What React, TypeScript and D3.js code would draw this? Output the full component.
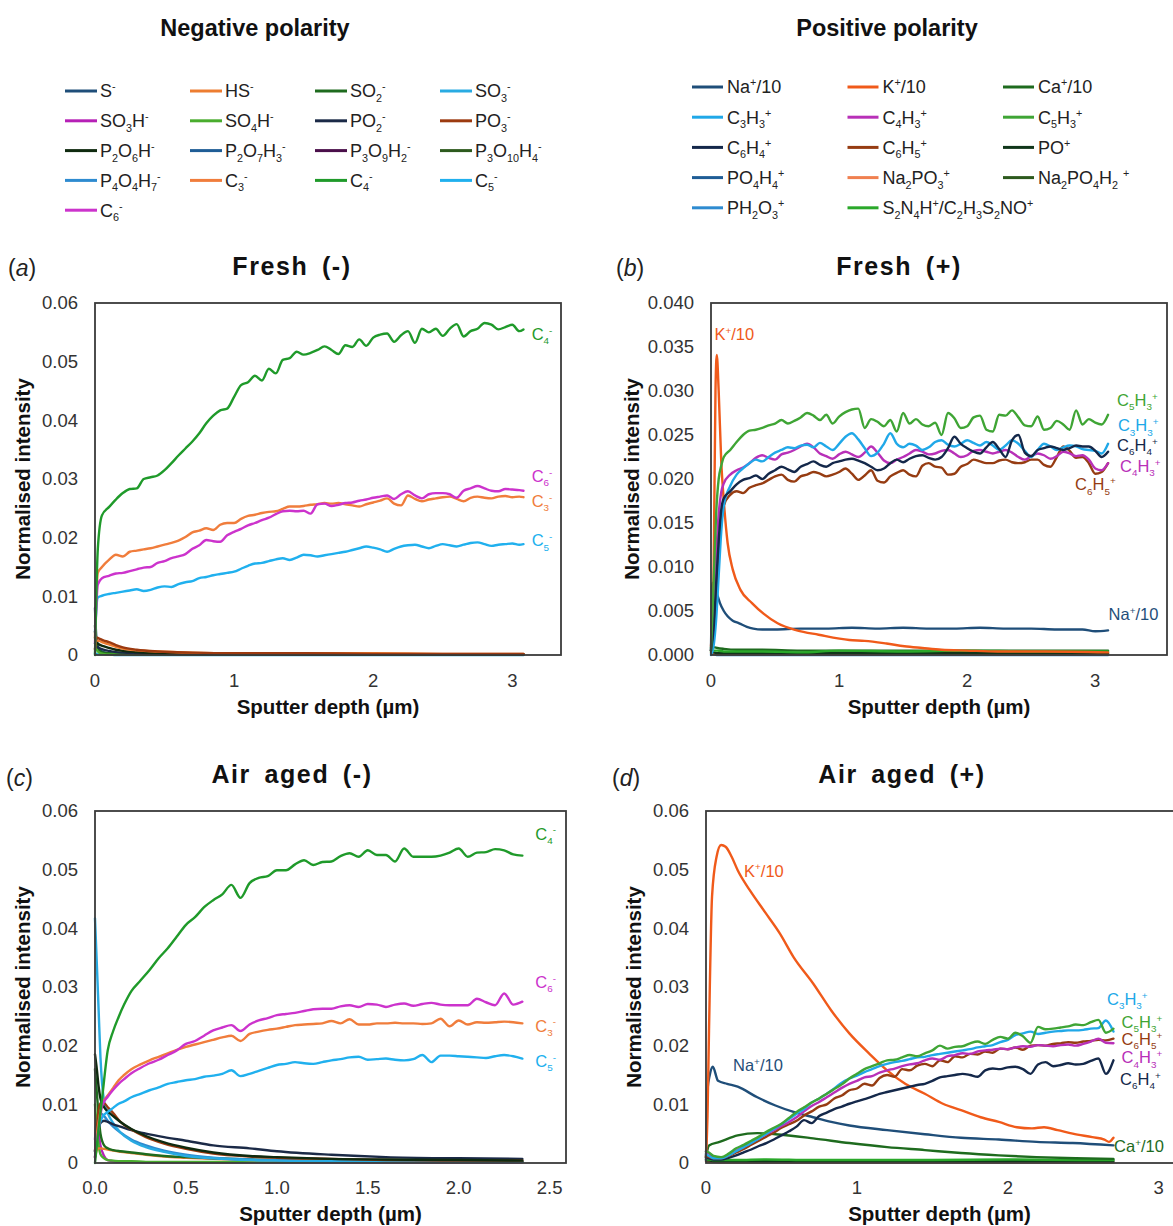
import React from 'react';
import * as d3 from 'd3';

// ---------------- Legend data ----------------
const NEG_LABELS = ['S^-', 'HS^-', 'SO_2^-', 'SO_3^-', 'SO_3H^-', 'SO_4H^-', 'PO_2^-', 'PO_3^-',
  'P_2O_6H^-', 'P_2O_7H_3^-', 'P_3O_9H_2^-', 'P_3O_{10}H_4^-', 'P_4O_4H_7^-', 'C_3^-', 'C_4^-', 'C_5^-', 'C_6^-'];
const NEG_COLORS = ['#1f4e79', '#ed7d31', '#1e6b1e', '#29abe2', '#b620b6', '#4aad2e', '#1b2a47', '#9c3a10',
  '#0f2a0f', '#1f5d96', '#4a0f4a', '#2d5a1e', '#2e8bd0', '#f07d3c', '#1f9a2a', '#20b0ee', '#cc33cc'];
const POS_LABELS = ['Na^+/10', 'K^+/10', 'Ca^+/10', 'C_3H_3^+', 'C_4H_3^+', 'C_5H_3^+', 'C_6H_4^+', 'C_6H_5^+',
  'PO^+', 'PO_4H_4^+', 'Na_2PO_3^+', 'Na_2PO_4H_2 ^+', 'PH_2O_3^+', 'S_2N_4H^+/C_2H_3S_2NO^+'];
const POS_COLORS = ['#1f4e79', '#f05a1a', '#1e6b1e', '#20a8e8', '#b830b8', '#3fa535', '#14284a', '#963c12',
  '#10361a', '#1f5d96', '#f08050', '#2d5a1e', '#2e8bd0', '#2aa82a'];

// ---------------- Axis ticks ----------------
const Y_TICKS_6 = [0, 0.01, 0.02, 0.03, 0.04, 0.05, 0.06];
const Y_LABELS_6 = ['0', '0.01', '0.02', '0.03', '0.04', '0.05', '0.06'];
const Y_TICKS_B = [0, 0.005, 0.01, 0.015, 0.02, 0.025, 0.03, 0.035, 0.04];
const Y_LABELS_B = ['0.000', '0.005', '0.010', '0.015', '0.020', '0.025', '0.030', '0.035', '0.040'];
const X_TICKS_INT = [0, 1, 2, 3];
const X_LABELS_INT = ['0', '1', '2', '3'];
const X_TICKS_C = [0, 0.5, 1, 1.5, 2, 2.5];
const X_LABELS_C = ['0.0', '0.5', '1.0', '1.5', '2.0', '2.5'];

// ---------------- Panel (a) Fresh (-) ----------------
const A_X = [0, 0.02, 0.05, 0.1, 0.15, 0.2, 0.25, 0.3, 0.35, 0.4,
  0.45, 0.5, 0.55, 0.6, 0.65, 0.7, 0.75, 0.8, 0.85, 0.9,
  0.95, 1.0, 1.05, 1.1, 1.15, 1.2, 1.25, 1.3, 1.35, 1.4,
  1.45, 1.5, 1.55, 1.6, 1.65, 1.7, 1.75, 1.8, 1.85, 1.9,
  1.95, 2.0, 2.05, 2.1, 2.15, 2.2, 2.25, 2.3, 2.35, 2.4,
  2.45, 2.5, 2.55, 2.6, 2.65, 2.7, 2.75, 2.8, 2.85, 2.9,
  2.95, 3.0, 3.05, 3.08];
const A_C4 = [0.0000, 0.0180, 0.0238, 0.0252, 0.0265, 0.0276, 0.0283, 0.0284, 0.0300, 0.0303,
  0.0306, 0.0315, 0.0327, 0.0340, 0.0352, 0.0364, 0.0378, 0.0395, 0.0408, 0.0417,
  0.0420, 0.0440, 0.0460, 0.0465, 0.0476, 0.0468, 0.0488, 0.0480, 0.0503, 0.0506,
  0.0517, 0.0512, 0.0515, 0.0520, 0.0526, 0.0520, 0.0513, 0.0528, 0.0525, 0.0538,
  0.0527, 0.0541, 0.0546, 0.0548, 0.0534, 0.0545, 0.0552, 0.0532, 0.0556, 0.0550,
  0.0556, 0.0544, 0.0556, 0.0564, 0.0543, 0.0552, 0.0556, 0.0566, 0.0563, 0.0555,
  0.0559, 0.0563, 0.0552, 0.0555];
const A_C6 = [0.0020, 0.0120, 0.0131, 0.0135, 0.0139, 0.0140, 0.0143, 0.0146, 0.0149, 0.0150,
  0.0157, 0.0160, 0.0165, 0.0168, 0.0172, 0.0181, 0.0187, 0.0196, 0.0194, 0.0193,
  0.0204, 0.0210, 0.0215, 0.0221, 0.0225, 0.0230, 0.0234, 0.0240, 0.0245, 0.0246,
  0.0245, 0.0246, 0.0241, 0.0257, 0.0258, 0.0254, 0.0256, 0.0259, 0.0260, 0.0263,
  0.0265, 0.0268, 0.0270, 0.0272, 0.0266, 0.0274, 0.0279, 0.0272, 0.0267, 0.0274,
  0.0276, 0.0276, 0.0274, 0.0268, 0.0280, 0.0284, 0.0288, 0.0284, 0.0280, 0.0279,
  0.0283, 0.0282, 0.0281, 0.0280];
const A_C3 = [0.0030, 0.0140, 0.0150, 0.0162, 0.0171, 0.0168, 0.0176, 0.0178, 0.0180, 0.0182,
  0.0185, 0.0188, 0.0191, 0.0195, 0.0201, 0.0209, 0.0212, 0.0216, 0.0213, 0.0222,
  0.0225, 0.0225, 0.0232, 0.0237, 0.0239, 0.0242, 0.0244, 0.0245, 0.0249, 0.0253,
  0.0253, 0.0254, 0.0256, 0.0257, 0.0259, 0.0258, 0.0259, 0.0257, 0.0255, 0.0253,
  0.0257, 0.0260, 0.0263, 0.0267, 0.0258, 0.0255, 0.0272, 0.0266, 0.0262, 0.0265,
  0.0267, 0.0269, 0.0270, 0.0266, 0.0262, 0.0268, 0.0270, 0.0268, 0.0267, 0.0270,
  0.0271, 0.0269, 0.0270, 0.0269];
const A_C5 = [0.0040, 0.0098, 0.0101, 0.0104, 0.0106, 0.0108, 0.0110, 0.0112, 0.0109, 0.0111,
  0.0115, 0.0117, 0.0116, 0.0121, 0.0124, 0.0126, 0.0131, 0.0133, 0.0136, 0.0138,
  0.0140, 0.0142, 0.0147, 0.0152, 0.0156, 0.0157, 0.0160, 0.0163, 0.0165, 0.0162,
  0.0166, 0.0171, 0.0170, 0.0168, 0.0170, 0.0172, 0.0174, 0.0176, 0.0179, 0.0182,
  0.0185, 0.0183, 0.0180, 0.0176, 0.0181, 0.0185, 0.0187, 0.0188, 0.0185, 0.0182,
  0.0186, 0.0189, 0.0187, 0.0185, 0.0188, 0.0191, 0.0192, 0.0189, 0.0186, 0.0188,
  0.0189, 0.0190, 0.0188, 0.0189];
const A_LOW_X = [0, 0.01, 0.03, 0.06, 0.1, 0.15, 0.2, 0.3, 0.45, 0.7, 1.0, 1.5, 2.0, 2.5, 3.08];
const A_PO3 = [0.0010, 0.0030, 0.0028, 0.0025, 0.0022, 0.0017, 0.0013, 0.0009, 0.0006, 0.0004, 0.0003, 0.0003, 0.0002, 0.0002, 0.0002];
const A_HS = [0.0010, 0.0025, 0.0024, 0.0021, 0.0018, 0.0014, 0.0011, 0.0008, 0.0006, 0.0004, 0.0003, 0.0003, 0.0003, 0.0002, 0.0002];
const A_P2O6H = [0.0040, 0.0022, 0.0018, 0.0015, 0.0012, 0.0009, 0.0007, 0.0005, 0.0003, 0.0002, 0.0002, 0.0001, 0.0001, 0.0001, 0.0001];
const A_PO2 = [0.0020, 0.0015, 0.0012, 0.0009, 0.0007, 0.0005, 0.0004, 0.0003, 0.0002, 0.0001, 0.0001, 0.0001, 0.0001, 0.0001, 0.0001];
const A_S = [0.0080, 0.0030, 0.0010, 0.0005, 0.0003, 0.0002, 0.0001, 0.0001, 0.0001, 0.0001, 0.0001, 0.0001, 0.0001, 0.0001, 0.0001];
const A_SO2 = [0.0050, 0.0020, 0.0008, 0.0004, 0.0003, 0.0002, 0.0002, 0.0001, 0.0001, 0.0001, 0.0001, 0.0001, 0.0001, 0.0001, 0.0001];
const A_SO4H = [0.0030, 0.0010, 0.0004, 0.0002, 0.0001, 0.0001, 0.0001, 0.0001, 0.0001, 0.0001, 0.0001, 0.0001, 0.0001, 0.0001, 0.0001];
const A_SO3 = [0.0003, 0.0002, 0.0001, 0.0001, 0.0001, 0.0000, 0.0000, 0.0000, 0.0000, 0.0000, 0.0000, 0.0000, 0.0000, 0.0000, 0.0000];

// ---------------- Panel (b) Fresh (+) ----------------
const B_X = [0, 0.02, 0.04, 0.06, 0.08, 0.1, 0.15, 0.2, 0.25, 0.3,
  0.35, 0.4, 0.45, 0.5, 0.55, 0.6, 0.65, 0.7, 0.75, 0.8,
  0.85, 0.9, 0.95, 1.0, 1.05, 1.1, 1.15, 1.2, 1.25, 1.3,
  1.35, 1.4, 1.45, 1.5, 1.55, 1.6, 1.65, 1.7, 1.75, 1.8,
  1.85, 1.9, 1.95, 2.0, 2.05, 2.1, 2.15, 2.2, 2.25, 2.3,
  2.35, 2.4, 2.45, 2.5, 2.55, 2.6, 2.65, 2.7, 2.75, 2.8,
  2.85, 2.9, 2.95, 3.0, 3.05, 3.1];
const B_C5H3 = [0.0005, 0.0080, 0.0160, 0.0200, 0.0215, 0.0225, 0.0233, 0.0242, 0.0250, 0.0255,
  0.0256, 0.0258, 0.0261, 0.0263, 0.0267, 0.0263, 0.0266, 0.0270, 0.0275, 0.0272,
  0.0267, 0.0273, 0.0263, 0.0271, 0.0276, 0.0279, 0.0280, 0.0258, 0.0268, 0.0265,
  0.0260, 0.0267, 0.0254, 0.0275, 0.0263, 0.0268, 0.0262, 0.0260, 0.0264, 0.0250,
  0.0275, 0.0269, 0.0258, 0.0260, 0.0270, 0.0272, 0.0256, 0.0254, 0.0273, 0.0272,
  0.0278, 0.0270, 0.0261, 0.0260, 0.0271, 0.0256, 0.0258, 0.0266, 0.0262, 0.0256,
  0.0278, 0.0262, 0.0268, 0.0264, 0.0262, 0.0273];
const B_C3H3 = [0.0000, 0.0010, 0.0040, 0.0090, 0.0140, 0.0170, 0.0192, 0.0205, 0.0212, 0.0218,
  0.0222, 0.0220, 0.0225, 0.0230, 0.0233, 0.0236, 0.0235, 0.0238, 0.0239, 0.0236,
  0.0241, 0.0237, 0.0233, 0.0240, 0.0248, 0.0252, 0.0245, 0.0235, 0.0226, 0.0230,
  0.0240, 0.0252, 0.0240, 0.0236, 0.0240, 0.0238, 0.0233, 0.0236, 0.0242, 0.0244,
  0.0239, 0.0237, 0.0240, 0.0244, 0.0241, 0.0238, 0.0242, 0.0238, 0.0233, 0.0238,
  0.0244, 0.0240, 0.0232, 0.0225, 0.0233, 0.0240, 0.0237, 0.0233, 0.0236, 0.0238,
  0.0237, 0.0234, 0.0233, 0.0232, 0.0229, 0.0240];
const B_C4H3 = [0.0005, 0.0040, 0.0110, 0.0160, 0.0185, 0.0195, 0.0205, 0.0210, 0.0213, 0.0218,
  0.0224, 0.0227, 0.0224, 0.0222, 0.0228, 0.0230, 0.0233, 0.0237, 0.0240, 0.0236,
  0.0229, 0.0226, 0.0223, 0.0228, 0.0231, 0.0228, 0.0225, 0.0230, 0.0237, 0.0230,
  0.0221, 0.0218, 0.0222, 0.0225, 0.0229, 0.0233, 0.0231, 0.0228, 0.0229, 0.0232,
  0.0233, 0.0229, 0.0225, 0.0227, 0.0232, 0.0233, 0.0231, 0.0229, 0.0231, 0.0233,
  0.0230, 0.0225, 0.0222, 0.0226, 0.0229, 0.0227, 0.0223, 0.0226, 0.0231, 0.0229,
  0.0226, 0.0227, 0.0222, 0.0212, 0.0210, 0.0218];
const B_C6H4 = [0.0005, 0.0030, 0.0080, 0.0130, 0.0165, 0.0178, 0.0186, 0.0194, 0.0199, 0.0201,
  0.0204, 0.0200, 0.0206, 0.0210, 0.0214, 0.0211, 0.0208, 0.0214, 0.0217, 0.0220,
  0.0216, 0.0214, 0.0218, 0.0220, 0.0222, 0.0223, 0.0221, 0.0218, 0.0214, 0.0210,
  0.0212, 0.0218, 0.0222, 0.0219, 0.0223, 0.0226, 0.0227, 0.0224, 0.0222, 0.0225,
  0.0235, 0.0248, 0.0240, 0.0235, 0.0231, 0.0229, 0.0236, 0.0242, 0.0234, 0.0225,
  0.0244, 0.0250, 0.0230, 0.0226, 0.0233, 0.0235, 0.0237, 0.0235, 0.0233, 0.0235,
  0.0238, 0.0237, 0.0237, 0.0232, 0.0225, 0.0231];
const B_C6H5 = [0.0005, 0.0020, 0.0060, 0.0110, 0.0150, 0.0170, 0.0182, 0.0186, 0.0184, 0.0190,
  0.0193, 0.0195, 0.0199, 0.0203, 0.0205, 0.0199, 0.0197, 0.0203, 0.0205, 0.0208,
  0.0206, 0.0203, 0.0205, 0.0208, 0.0212, 0.0206, 0.0199, 0.0204, 0.0210, 0.0198,
  0.0196, 0.0203, 0.0207, 0.0210, 0.0205, 0.0203, 0.0215, 0.0218, 0.0214, 0.0213,
  0.0205, 0.0206, 0.0214, 0.0217, 0.0222, 0.0220, 0.0218, 0.0218, 0.0221, 0.0222,
  0.0219, 0.0218, 0.0219, 0.0222, 0.0222, 0.0216, 0.0214, 0.0225, 0.0237, 0.0232,
  0.0224, 0.0225, 0.0218, 0.0206, 0.0208, 0.0218];
const B_K_X = [0, 0.02, 0.035, 0.045, 0.06, 0.08, 0.1, 0.13, 0.17, 0.23, 0.32, 0.41, 0.52, 0.67, 0.84, 1.08, 1.2, 1.37, 1.51, 1.65, 1.8, 2.0, 2.24, 2.6, 3.1];
const B_K = [0.0010, 0.0090, 0.0300, 0.0341, 0.0300, 0.0220, 0.0175, 0.0127, 0.0097, 0.0074, 0.0059, 0.0047, 0.0036, 0.0028, 0.0023, 0.0017, 0.0016, 0.0013, 0.0010, 0.0008, 0.0006, 0.0005, 0.0004, 0.0004, 0.0003];
const B_NA_X = [0, 0.01, 0.03, 0.05, 0.07, 0.1, 0.13, 0.17, 0.22, 0.28, 0.33, 0.4, 0.5, 0.7, 0.9, 1.1, 1.3, 1.5, 1.7, 1.9, 2.1, 2.3, 2.5, 2.7, 2.9, 3.0, 3.1];
const B_NA = [0.0005, 0.0082, 0.0078, 0.0068, 0.0059, 0.0050, 0.0044, 0.0039, 0.0036, 0.0032, 0.0030, 0.0029, 0.0029, 0.0030, 0.0030, 0.0031, 0.0030, 0.0031, 0.0030, 0.0030, 0.0031, 0.0030, 0.0030, 0.0029, 0.0029, 0.0027, 0.0028];
const B_LOW_X = [0, 0.02, 0.05, 0.1, 0.2, 0.4, 0.7, 1.0, 1.5, 2.0, 2.5, 3.1];
const B_CA = [0.0008, 0.0009, 0.0008, 0.0007, 0.0006, 0.0006, 0.0005, 0.0005, 0.0005, 0.0005, 0.0005, 0.0005];
const B_S2N4H = [0.0004, 0.0005, 0.0005, 0.0004, 0.0004, 0.0004, 0.0003, 0.0005, 0.0004, 0.0005, 0.0004, 0.0004];
const B_PO = [0.0003, 0.0003, 0.0002, 0.0002, 0.0002, 0.0002, 0.0002, 0.0002, 0.0002, 0.0002, 0.0002, 0.0002];
const B_NA2PO3 = [0.0002, 0.0002, 0.0001, 0.0001, 0.0001, 0.0001, 0.0001, 0.0001, 0.0001, 0.0001, 0.0001, 0.0001];
const B_PH2O3 = [0.0001, 0.0001, 0.0000, 0.0000, 0.0000, 0.0000, 0.0000, 0.0000, 0.0000, 0.0000, 0.0000, 0.0000];

// ---------------- Panel (c) Air aged (-) ----------------
const C_X = [0, 0.02, 0.04, 0.07, 0.1, 0.13, 0.16, 0.2, 0.25, 0.3,
  0.35, 0.4, 0.45, 0.5, 0.55, 0.6, 0.65, 0.7, 0.75, 0.8,
  0.85, 0.9, 0.95, 1.0, 1.05, 1.1, 1.15, 1.2, 1.25, 1.3,
  1.35, 1.4, 1.45, 1.5, 1.55, 1.6, 1.65, 1.7, 1.75, 1.8,
  1.85, 1.9, 1.95, 2.0, 2.05, 2.1, 2.15, 2.2, 2.25, 2.3,
  2.35];
const C_C4 = [0.0000, 0.0060, 0.0113, 0.0192, 0.0225, 0.0249, 0.0270, 0.0293, 0.0311, 0.0329,
  0.0349, 0.0366, 0.0386, 0.0406, 0.0419, 0.0436, 0.0448, 0.0458, 0.0474, 0.0452,
  0.0477, 0.0486, 0.0489, 0.0499, 0.0499, 0.0509, 0.0516, 0.0508, 0.0513, 0.0514,
  0.0523, 0.0528, 0.0522, 0.0533, 0.0525, 0.0525, 0.0514, 0.0536, 0.0522, 0.0522,
  0.0522, 0.0524, 0.0529, 0.0536, 0.0522, 0.0529, 0.0530, 0.0535, 0.0533, 0.0526,
  0.0524];
const C_C6 = [0.0010, 0.0060, 0.0098, 0.0113, 0.0125, 0.0135, 0.0143, 0.0153, 0.0162, 0.0170,
  0.0176, 0.0184, 0.0192, 0.0203, 0.0208, 0.0217, 0.0226, 0.0231, 0.0235, 0.0225,
  0.0236, 0.0243, 0.0247, 0.0252, 0.0254, 0.0256, 0.0259, 0.0262, 0.0263, 0.0263,
  0.0267, 0.0269, 0.0266, 0.0271, 0.0270, 0.0266, 0.0270, 0.0272, 0.0268, 0.0271,
  0.0273, 0.0270, 0.0269, 0.0269, 0.0269, 0.0280, 0.0274, 0.0269, 0.0289, 0.0270,
  0.0275];
const C_C3 = [0.0020, 0.0070, 0.0100, 0.0115, 0.0128, 0.0141, 0.0150, 0.0160, 0.0168, 0.0175,
  0.0181, 0.0187, 0.0193, 0.0198, 0.0202, 0.0206, 0.0210, 0.0214, 0.0217, 0.0208,
  0.0220, 0.0224, 0.0227, 0.0229, 0.0232, 0.0235, 0.0236, 0.0237, 0.0238, 0.0242,
  0.0238, 0.0245, 0.0236, 0.0236, 0.0238, 0.0238, 0.0239, 0.0238, 0.0238, 0.0237,
  0.0238, 0.0246, 0.0233, 0.0243, 0.0236, 0.0240, 0.0239, 0.0240, 0.0241, 0.0240,
  0.0238];
const C_C5 = [0.0020, 0.0060, 0.0078, 0.0087, 0.0094, 0.0101, 0.0105, 0.0112, 0.0118, 0.0124,
  0.0129, 0.0135, 0.0138, 0.0141, 0.0143, 0.0147, 0.0149, 0.0152, 0.0158, 0.0148,
  0.0152, 0.0157, 0.0162, 0.0167, 0.0169, 0.0172, 0.0170, 0.0169, 0.0172, 0.0175,
  0.0177, 0.0180, 0.0181, 0.0176, 0.0177, 0.0178, 0.0176, 0.0175, 0.0177, 0.0184,
  0.0172, 0.0183, 0.0183, 0.0182, 0.0181, 0.0180, 0.0179, 0.0182, 0.0184, 0.0182,
  0.0178];
const C_LOW_X = [0, 0.01, 0.02, 0.03, 0.05, 0.07, 0.1, 0.14, 0.2, 0.28, 0.38, 0.5, 0.65, 0.85, 1.0, 1.3, 1.6, 2.0, 2.35];
const C_SO3 = [0.0417, 0.0340, 0.0260, 0.0180, 0.0105, 0.0085, 0.0068, 0.0052, 0.0038, 0.0027, 0.0019, 0.0012, 0.0008, 0.0005, 0.0004, 0.0003, 0.0003, 0.0002, 0.0002];
const C_P2O6H = [0.0185, 0.0160, 0.0130, 0.0110, 0.0095, 0.0088, 0.0080, 0.0070, 0.0058, 0.0046, 0.0035, 0.0026, 0.0018, 0.0012, 0.0010, 0.0007, 0.0006, 0.0005, 0.0004];
const C_PO3 = [0.0020, 0.0060, 0.0090, 0.0102, 0.0102, 0.0095, 0.0085, 0.0070, 0.0057, 0.0044, 0.0033, 0.0024, 0.0016, 0.0011, 0.0009, 0.0007, 0.0005, 0.0004, 0.0004];
const C_PO2 = [0.0010, 0.0040, 0.0060, 0.0068, 0.0072, 0.0070, 0.0066, 0.0062, 0.0056, 0.0050, 0.0044, 0.0038, 0.0030, 0.0025, 0.0020, 0.0014, 0.0010, 0.0008, 0.0007];
const C_SO2 = [0.0160, 0.0120, 0.0080, 0.0050, 0.0030, 0.0025, 0.0022, 0.0020, 0.0018, 0.0015, 0.0012, 0.0010, 0.0008, 0.0006, 0.0005, 0.0004, 0.0003, 0.0003, 0.0002];
const C_SO4H = [0.0100, 0.0060, 0.0030, 0.0015, 0.0008, 0.0005, 0.0004, 0.0003, 0.0003, 0.0002, 0.0002, 0.0002, 0.0002, 0.0002, 0.0002, 0.0002, 0.0002, 0.0002, 0.0002];
const C_HS = [0.0010, 0.0022, 0.0025, 0.0025, 0.0024, 0.0023, 0.0021, 0.0019, 0.0017, 0.0014, 0.0011, 0.0009, 0.0007, 0.0005, 0.0004, 0.0003, 0.0003, 0.0002, 0.0002];
const C_SO3H = [0.0040, 0.0070, 0.0050, 0.0030, 0.0012, 0.0005, 0.0003, 0.0002, 0.0002, 0.0001, 0.0001, 0.0001, 0.0001, 0.0001, 0.0001, 0.0001, 0.0001, 0.0001, 0.0001];
const C_P4O4H7 = [0.0020, 0.0060, 0.0080, 0.0085, 0.0080, 0.0072, 0.0062, 0.0052, 0.0040, 0.0030, 0.0021, 0.0014, 0.0009, 0.0006, 0.0005, 0.0003, 0.0003, 0.0002, 0.0002];

// ---------------- Panel (d) Air aged (+) ----------------
const D_X = [0, 0.02, 0.05, 0.1, 0.15, 0.2, 0.25, 0.3, 0.35, 0.4,
  0.45, 0.5, 0.55, 0.6, 0.65, 0.7, 0.75, 0.8, 0.85, 0.9,
  0.95, 1.0, 1.05, 1.1, 1.15, 1.2, 1.25, 1.3, 1.35, 1.4,
  1.45, 1.5, 1.55, 1.6, 1.65, 1.7, 1.75, 1.8, 1.85, 1.9,
  1.95, 2.0, 2.05, 2.1, 2.15, 2.2, 2.25, 2.3, 2.35, 2.4,
  2.45, 2.5, 2.55, 2.6, 2.65, 2.7];
const D_C5H3 = [0.0020, 0.0018, 0.0012, 0.0010, 0.0016, 0.0025, 0.0031, 0.0038, 0.0045, 0.0053,
  0.0060, 0.0067, 0.0077, 0.0087, 0.0095, 0.0103, 0.0110, 0.0118, 0.0126, 0.0134,
  0.0144, 0.0152, 0.0160, 0.0165, 0.0170, 0.0175, 0.0176, 0.0180, 0.0184, 0.0182,
  0.0187, 0.0192, 0.0200, 0.0195, 0.0198, 0.0199, 0.0204, 0.0207, 0.0203, 0.0210,
  0.0215, 0.0212, 0.0222, 0.0216, 0.0205, 0.0232, 0.0228, 0.0229, 0.0231, 0.0233,
  0.0236, 0.0235, 0.0240, 0.0244, 0.0222, 0.0229];
const D_C3H3 = [0.0015, 0.0012, 0.0008, 0.0008, 0.0013, 0.0020, 0.0027, 0.0034, 0.0042, 0.0050,
  0.0058, 0.0066, 0.0075, 0.0084, 0.0092, 0.0103, 0.0110, 0.0118, 0.0127, 0.0137,
  0.0144, 0.0149, 0.0155, 0.0160, 0.0165, 0.0169, 0.0172, 0.0174, 0.0177, 0.0180,
  0.0181, 0.0184, 0.0186, 0.0188, 0.0190, 0.0192, 0.0194, 0.0197, 0.0199, 0.0201,
  0.0206, 0.0210, 0.0218, 0.0221, 0.0224, 0.0220, 0.0222, 0.0224, 0.0225, 0.0226,
  0.0226, 0.0227, 0.0229, 0.0230, 0.0243, 0.0224];
const D_C6H5 = [0.0012, 0.0010, 0.0008, 0.0008, 0.0012, 0.0018, 0.0024, 0.0031, 0.0038, 0.0045,
  0.0052, 0.0060, 0.0066, 0.0072, 0.0081, 0.0088, 0.0096, 0.0100, 0.0110, 0.0115,
  0.0124, 0.0127, 0.0135, 0.0132, 0.0145, 0.0150, 0.0147, 0.0160, 0.0158, 0.0166,
  0.0169, 0.0165, 0.0175, 0.0172, 0.0182, 0.0180, 0.0186, 0.0185, 0.0190, 0.0188,
  0.0195, 0.0194, 0.0197, 0.0193, 0.0200, 0.0201, 0.0200, 0.0203, 0.0204, 0.0206,
  0.0205, 0.0207, 0.0208, 0.0210, 0.0209, 0.0212];
const D_C4H3 = [0.0020, 0.0016, 0.0010, 0.0009, 0.0014, 0.0021, 0.0028, 0.0035, 0.0042, 0.0049,
  0.0056, 0.0063, 0.0070, 0.0078, 0.0088, 0.0097, 0.0104, 0.0112, 0.0120, 0.0128,
  0.0135, 0.0140, 0.0146, 0.0148, 0.0154, 0.0158, 0.0161, 0.0165, 0.0168, 0.0170,
  0.0175, 0.0178, 0.0176, 0.0182, 0.0184, 0.0187, 0.0186, 0.0190, 0.0192, 0.0193,
  0.0195, 0.0194, 0.0197, 0.0199, 0.0198, 0.0201, 0.0200, 0.0199, 0.0201, 0.0202,
  0.0200, 0.0203, 0.0207, 0.0212, 0.0205, 0.0204];
const D_C6H4 = [0.0010, 0.0008, 0.0006, 0.0006, 0.0009, 0.0013, 0.0018, 0.0023, 0.0029, 0.0034,
  0.0040, 0.0047, 0.0054, 0.0062, 0.0073, 0.0068, 0.0080, 0.0086, 0.0092, 0.0096,
  0.0101, 0.0105, 0.0109, 0.0113, 0.0118, 0.0121, 0.0124, 0.0127, 0.0130, 0.0133,
  0.0135, 0.0140, 0.0146, 0.0148, 0.0150, 0.0152, 0.0150, 0.0147, 0.0158, 0.0161,
  0.0160, 0.0163, 0.0164, 0.0160, 0.0152, 0.0168, 0.0172, 0.0165, 0.0167, 0.0170,
  0.0168, 0.0169, 0.0174, 0.0178, 0.0152, 0.0175];
const D_K_X = [0, 0.01, 0.02, 0.04, 0.07, 0.1, 0.13, 0.17, 0.21, 0.29, 0.39, 0.49, 0.58, 0.71, 0.83, 0.95, 1.08, 1.2, 1.32, 1.45, 1.57, 1.69, 1.82, 1.94, 2.06, 2.16, 2.24, 2.33, 2.43, 2.56, 2.64, 2.67, 2.7];
const D_K = [0.0010, 0.0080, 0.0226, 0.0454, 0.0522, 0.0542, 0.0539, 0.0522, 0.0499, 0.0465, 0.0428, 0.0391, 0.0351, 0.0306, 0.0260, 0.0221, 0.0187, 0.0158, 0.0135, 0.0118, 0.0101, 0.0090, 0.0078, 0.0070, 0.0061, 0.0059, 0.0061, 0.0056, 0.0050, 0.0044, 0.0040, 0.0036, 0.0043];
const D_NA_X = [0, 0.01, 0.025, 0.045, 0.08, 0.14, 0.21, 0.34, 0.46, 0.58, 0.71, 0.83, 0.95, 1.2, 1.45, 1.69, 1.94, 2.19, 2.43, 2.7];
const D_NA = [0.0005, 0.0125, 0.0150, 0.0164, 0.0140, 0.0135, 0.0130, 0.0112, 0.0098, 0.0087, 0.0078, 0.0070, 0.0064, 0.0056, 0.0049, 0.0043, 0.0040, 0.0036, 0.0034, 0.0030];
const D_CA_X = [0, 0.02, 0.09, 0.21, 0.34, 0.46, 0.71, 0.95, 1.2, 1.45, 1.69, 1.94, 2.19, 2.45, 2.7];
const D_CA = [0.0010, 0.0030, 0.0036, 0.0047, 0.0051, 0.0049, 0.0042, 0.0034, 0.0027, 0.0022, 0.0017, 0.0013, 0.0010, 0.0008, 0.0007];
const D_LOW_X = [0, 0.02, 0.05, 0.1, 0.2, 0.4, 0.7, 1.0, 1.5, 2.0, 2.5, 2.7];
const D_S2N4H = [0.0006, 0.0006, 0.0005, 0.0005, 0.0005, 0.0006, 0.0005, 0.0005, 0.0005, 0.0006, 0.0005, 0.0005];
const D_PO = [0.0004, 0.0004, 0.0003, 0.0003, 0.0003, 0.0003, 0.0003, 0.0003, 0.0003, 0.0003, 0.0003, 0.0003];
const D_NA2PO3 = [0.0003, 0.0002, 0.0002, 0.0001, 0.0001, 0.0001, 0.0001, 0.0001, 0.0001, 0.0001, 0.0001, 0.0001];

// ---------------- helpers ----------------
const FONT = '"Liberation Sans", Arial, Helvetica, sans-serif';
const NEG_COLOR: Record<string, string> = Object.fromEntries(NEG_LABELS.map((l, i) => [l, NEG_COLORS[i]]));
const POS_COLOR: Record<string, string> = Object.fromEntries(POS_LABELS.map((l, i) => [l, POS_COLORS[i]]));

function rich(text: string, fs: number) {
  const tokens: { t: string; m: number }[] = [];
  let buf = '';
  let i = 0;
  while (i < text.length) {
    const c = text[i];
    if (c === '_' || c === '^') {
      if (buf) { tokens.push({ t: buf, m: 0 }); buf = ''; }
      let content = '';
      if (text[i + 1] === '{') {
        const j = text.indexOf('}', i);
        content = text.slice(i + 2, j);
        i = j + 1;
      } else {
        content = text[i + 1];
        i += 2;
      }
      tokens.push({ t: content, m: c === '_' ? 1 : -1 });
    } else {
      buf += c;
      i++;
    }
  }
  if (buf) tokens.push({ t: buf, m: 0 });
  let cur = 0;
  return tokens.map((tk, k) => {
    const target = tk.m === 1 ? fs * 0.26 : tk.m === -1 ? -fs * 0.38 : 0;
    const dy = target - cur;
    cur = target;
    return (
      <tspan key={k} dy={dy} fontSize={tk.m ? fs * 0.6 : fs} style={{ whiteSpace: 'pre' }}>
        {tk.t}
      </tspan>
    );
  });
}

type Series = { name: string; color: string; x: number[]; y: number[]; w?: number };
type Label = { text: string; color: string; at: [number, number] };
type PanelCfg = {
  box: { left: number; right: number; top: number; bottom: number };
  xDomain: [number, number];
  yMax: number;
  yTicks: number[];
  yLabels: string[];
  xTicks: number[];
  xLabels: string[];
  title: string;
  titleX: number;
  titleY: number;
  tag: string;
  tagX: number;
  tagY: number;
  yTitleX: number;
  xTitleY: number;
  xTickY: number;
  series: Series[];
  labels: Label[];
};

const neg = (name: string, x: number[], y: number[], w = 2.4): Series => ({ name, color: NEG_COLOR[name], x, y, w });
const pos = (name: string, x: number[], y: number[], w = 2.4): Series => ({ name, color: POS_COLOR[name], x, y, w });

const PANELS: PanelCfg[] = [
  {
    box: { left: 95, right: 561, top: 303, bottom: 655 },
    xDomain: [0, 3.35], yMax: 0.06, yTicks: Y_TICKS_6, yLabels: Y_LABELS_6, xTicks: X_TICKS_INT, xLabels: X_LABELS_INT,
    title: 'Fresh (-)', titleX: 292, titleY: 275, tag: 'a', tagX: 8, tagY: 276, yTitleX: 30, xTitleY: 714, xTickY: 687,
    series: [
      neg('S^-', A_LOW_X, A_S), neg('SO_3^-', A_LOW_X, A_SO3), neg('SO_2^-', A_LOW_X, A_SO2), neg('SO_4H^-', A_LOW_X, A_SO4H),
      neg('PO_2^-', A_LOW_X, A_PO2), neg('P_2O_6H^-', A_LOW_X, A_P2O6H), neg('HS^-', A_LOW_X, A_HS), neg('PO_3^-', A_LOW_X, A_PO3),
      neg('C_5^-', A_X, A_C5), neg('C_3^-', A_X, A_C3), neg('C_6^-', A_X, A_C6), neg('C_4^-', A_X, A_C4),
    ],
    labels: [
      { text: 'C_4^-', color: NEG_COLOR['C_4^-'], at: [3.139, 0.0537] },
      { text: 'C_6^-', color: NEG_COLOR['C_6^-'], at: [3.139, 0.0295] },
      { text: 'C_3^-', color: NEG_COLOR['C_3^-'], at: [3.139, 0.0252] },
      { text: 'C_5^-', color: NEG_COLOR['C_5^-'], at: [3.139, 0.0185] },
    ],
  },
  {
    box: { left: 711, right: 1167, top: 303, bottom: 655 },
    xDomain: [0, 3.56], yMax: 0.04, yTicks: Y_TICKS_B, yLabels: Y_LABELS_B, xTicks: X_TICKS_INT, xLabels: X_LABELS_INT,
    title: 'Fresh (+)', titleX: 899, titleY: 275, tag: 'b', tagX: 616, tagY: 276, yTitleX: 639, xTitleY: 714, xTickY: 687,
    series: [
      pos('PH_2O_3^+', B_LOW_X, B_PH2O3), pos('Na_2PO_3^+', B_LOW_X, B_NA2PO3), pos('PO^+', B_LOW_X, B_PO),
      pos('Ca^+/10', B_LOW_X, B_CA), pos('S_2N_4H^+/C_2H_3S_2NO^+', B_LOW_X, B_S2N4H),
      pos('Na^+/10', B_NA_X, B_NA), pos('K^+/10', B_K_X, B_K),
      pos('C_6H_5^+', B_X, B_C6H5), pos('C_4H_3^+', B_X, B_C4H3), pos('C_3H_3^+', B_X, B_C3H3),
      pos('C_6H_4^+', B_X, B_C6H4), pos('C_5H_3^+', B_X, B_C5H3),
    ],
    labels: [
      { text: 'K^+/10', color: POS_COLOR['K^+/10'], at: [0.027, 0.0358] },
      { text: 'C_5H_3^+', color: POS_COLOR['C_5H_3^+'], at: [3.17, 0.0283] },
      { text: 'C_3H_3^+', color: POS_COLOR['C_3H_3^+'], at: [3.177, 0.0254] },
      { text: 'C_6H_4^+', color: POS_COLOR['C_6H_4^+'], at: [3.17, 0.0232] },
      { text: 'C_4H_3^+', color: POS_COLOR['C_4H_3^+'], at: [3.193, 0.0208] },
      { text: 'C_6H_5^+', color: POS_COLOR['C_6H_5^+'], at: [2.842, 0.0187] },
      { text: 'Na^+/10', color: POS_COLOR['Na^+/10'], at: [3.104, 0.0040] },
    ],
  },
  {
    box: { left: 95, right: 566, top: 811, bottom: 1163 },
    xDomain: [0, 2.59], yMax: 0.06, yTicks: Y_TICKS_6, yLabels: Y_LABELS_6, xTicks: X_TICKS_C, xLabels: X_LABELS_C,
    title: 'Air aged (-)', titleX: 292, titleY: 783, tag: 'c', tagX: 6, tagY: 786, yTitleX: 30, xTitleY: 1221, xTickY: 1194,
    series: [
      neg('SO_3H^-', C_LOW_X, C_SO3H), neg('SO_4H^-', C_LOW_X, C_SO4H), neg('HS^-', C_LOW_X, C_HS),
      neg('SO_2^-', C_LOW_X, C_SO2), neg('P_4O_4H_7^-', C_LOW_X, C_P4O4H7), neg('SO_3^-', C_LOW_X, C_SO3),
      neg('PO_2^-', C_LOW_X, C_PO2), neg('PO_3^-', C_LOW_X, C_PO3), neg('P_2O_6H^-', C_LOW_X, C_P2O6H),
      neg('C_5^-', C_X, C_C5), neg('C_3^-', C_X, C_C3), neg('C_6^-', C_X, C_C6), neg('C_4^-', C_X, C_C4),
    ],
    labels: [
      { text: 'C_4^-', color: NEG_COLOR['C_4^-'], at: [2.421, 0.0551] },
      { text: 'C_6^-', color: NEG_COLOR['C_6^-'], at: [2.421, 0.0298] },
      { text: 'C_3^-', color: NEG_COLOR['C_3^-'], at: [2.421, 0.0224] },
      { text: 'C_5^-', color: NEG_COLOR['C_5^-'], at: [2.421, 0.0164] },
    ],
  },
  {
    box: { left: 706, right: 1204, top: 811, bottom: 1163 },
    xDomain: [0, 3.3], yMax: 0.06, yTicks: Y_TICKS_6, yLabels: Y_LABELS_6, xTicks: X_TICKS_INT, xLabels: X_LABELS_INT,
    title: 'Air aged (+)', titleX: 902, titleY: 783, tag: 'd', tagX: 612, tagY: 786, yTitleX: 641, xTitleY: 1221, xTickY: 1194,
    series: [
      pos('Na_2PO_3^+', D_LOW_X, D_NA2PO3), pos('PO^+', D_LOW_X, D_PO), pos('S_2N_4H^+/C_2H_3S_2NO^+', D_LOW_X, D_S2N4H),
      pos('Ca^+/10', D_CA_X, D_CA), pos('Na^+/10', D_NA_X, D_NA), pos('K^+/10', D_K_X, D_K),
      pos('C_6H_4^+', D_X, D_C6H4), pos('C_6H_5^+', D_X, D_C6H5), pos('C_4H_3^+', D_X, D_C4H3),
      pos('C_3H_3^+', D_X, D_C3H3), pos('C_5H_3^+', D_X, D_C5H3),
    ],
    labels: [
      { text: 'K^+/10', color: POS_COLOR['K^+/10'], at: [0.252, 0.0488] },
      { text: 'Na^+/10', color: POS_COLOR['Na^+/10'], at: [0.179, 0.0156] },
      { text: 'C_3H_3^+', color: POS_COLOR['C_3H_3^+'], at: [2.657, 0.0269] },
      { text: 'C_5H_3^+', color: POS_COLOR['C_5H_3^+'], at: [2.754, 0.0230] },
      { text: 'C_6H_5^+', color: POS_COLOR['C_6H_5^+'], at: [2.754, 0.0201] },
      { text: 'C_4H_3^+', color: POS_COLOR['C_4H_3^+'], at: [2.754, 0.0170] },
      { text: 'C_6H_4^+', color: POS_COLOR['C_6H_4^+'], at: [2.744, 0.0133] },
      { text: 'Ca^+/10', color: POS_COLOR['Ca^+/10'], at: [2.704, 0.0019] },
    ],
  },
];

function Panel({ cfg }: { cfg: PanelCfg }) {
  const { left, right, top, bottom } = cfg.box;
  const x = d3.scaleLinear().domain(cfg.xDomain).range([left, right]);
  const y = d3.scaleLinear().domain([0, cfg.yMax]).range([bottom, top]);
  const line = d3
    .line<[number, number]>()
    .x((d) => x(d[0]))
    .y((d) => y(d[1]))
    .curve(d3.curveMonotoneX);
  const tickFs = 18.5;
  const labelFs = 16.5;
  const visibleRight = Math.min(right, 1173);
  return (
    <g fontFamily={FONT}>
      <text x={cfg.tagX} y={cfg.tagY} fontSize={23} fill="#222">
        (<tspan fontStyle="italic">{cfg.tag}</tspan>)
      </text>
      <text x={cfg.titleX} y={cfg.titleY} fontSize={25} fontWeight="bold" textAnchor="middle" letterSpacing={1.6} wordSpacing={5} fill="#111">
        {cfg.title}
      </text>
      {cfg.series.map((s, i) => (
        <path
          key={i}
          d={line(s.x.map((v, k) => [v, s.y[k]] as [number, number])) || ''}
          fill="none"
          stroke={s.color}
          strokeWidth={s.w}
          strokeLinejoin="round"
          strokeLinecap="round"
        />
      ))}
      <rect x={left} y={top} width={right - left} height={bottom - top} fill="none" stroke="#3a3a3a" strokeWidth={1.8} />
      {cfg.yTicks.map((t, i) => (
        <text key={i} x={left - 17} y={y(t)} dy="0.35em" fontSize={tickFs} textAnchor="end" fill="#333">
          {cfg.yLabels[i]}
        </text>
      ))}
      {cfg.xTicks.map((t, i) => (
        <text key={i} x={x(t)} y={cfg.xTickY} fontSize={tickFs} textAnchor="middle" fill="#333">
          {cfg.xLabels[i]}
        </text>
      ))}
      <text
        transform={`translate(${cfg.yTitleX},${(top + bottom) / 2}) rotate(-90)`}
        fontSize={20.5}
        fontWeight="bold"
        textAnchor="middle"
        fill="#111"
      >
        Normalised intensity
      </text>
      <text x={(left + visibleRight) / 2} y={cfg.xTitleY} fontSize={20.5} fontWeight="bold" textAnchor="middle" fill="#111">
        Sputter depth (µm)
      </text>
      {cfg.labels.map((l, i) => (
        <text key={i} x={x(l.at[0])} y={y(l.at[1])} dy={labelFs * 0.35} fontSize={labelFs} fill={l.color}>
          {rich(l.text, labelFs)}
        </text>
      ))}
    </g>
  );
}

function Legend({ labels, colors, x0, y0, colW, rowH, cols, lineLen, textGap }: {
  labels: string[]; colors: string[]; x0: number; y0: number; colW: number; rowH: number; cols: number; lineLen: number; textGap: number;
}) {
  const fs = 18;
  return (
    <g fontFamily={FONT}>
      {labels.map((l, i) => {
        const cx = x0 + (i % cols) * colW;
        const cy = y0 + Math.floor(i / cols) * rowH;
        return (
          <g key={i}>
            <line x1={cx} x2={cx + lineLen} y1={cy} y2={cy} stroke={colors[i]} strokeWidth={3} />
            <text x={cx + lineLen + textGap} y={cy + fs * 0.35} fontSize={fs} fill="#222">
              {rich(l, fs)}
            </text>
          </g>
        );
      })}
    </g>
  );
}

export default function App() {
  return (
    <svg
      width={1173}
      height={1226}
      viewBox="0 0 1173 1226"
      style={{ position: 'absolute', left: 0, top: 0, background: '#fff' }}
    >
      <rect x={0} y={0} width={1173} height={1226} fill="#fff" />
      <text x={255} y={36} fontFamily={FONT} fontSize={23.5} fontWeight="bold" textAnchor="middle" fill="#111">
        Negative polarity
      </text>
      <text x={887} y={36} fontFamily={FONT} fontSize={23.5} fontWeight="bold" textAnchor="middle" fill="#111">
        Positive polarity
      </text>
      <Legend labels={NEG_LABELS} colors={NEG_COLORS} x0={65} y0={91} colW={125} rowH={29.8} cols={4} lineLen={32} textGap={3} />
      <Legend labels={POS_LABELS} colors={POS_COLORS} x0={692} y0={87} colW={155.5} rowH={30.2} cols={3} lineLen={31} textGap={4} />
      {PANELS.map((p, i) => (
        <Panel key={i} cfg={p} />
      ))}
    </svg>
  );
}
